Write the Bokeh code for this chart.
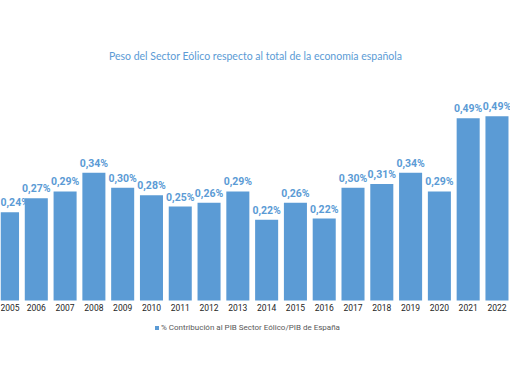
from bokeh.plotting import figure
from bokeh.models import ColumnDataSource, Label, Legend, LegendItem, FixedTicker
from bokeh.core.properties import value
from bokeh.embed import file_html
from bokeh.resources import INLINE

years = [2005, 2006, 2007, 2008, 2009, 2010, 2011, 2012, 2013, 2014,
         2015, 2016, 2017, 2018, 2019, 2020, 2021, 2022]
values = [0.235, 0.272, 0.29, 0.34, 0.30, 0.28, 0.25, 0.26, 0.29, 0.215,
          0.26, 0.218, 0.30, 0.31, 0.34, 0.29, 0.485, 0.49]
labels = ["0,24%", "0,27%", "0,29%", "0,34%", "0,30%", "0,28%", "0,25%", "0,26%", "0,29%",
          "0,22%", "0,26%", "0,22%", "0,30%", "0,31%", "0,34%", "0,29%", "0,49%", "0,49%"]
title_text = "Peso del Sector Eólico respecto al total de la economía española"
legend_text = "% Contribución al PIB Sector Eólico/PIB de España"

BLUE = "#5b9bd5"

# label styling: the first label is kept inside the chart's left edge
aligns = ["left"] + ["center"] * (len(years) - 1)
xoffs = [-7] + [0] * (len(years) - 1)

src = ColumnDataSource(dict(x=years, top=values, label=labels, align=aligns, xoff=xoffs))

p = figure(width=510, height=382, output_backend="svg", toolbar_location=None,
           x_range=(2004.7565, 2022.47), y_range=(-0.2181, 0.7979),
           min_border_left=0, min_border_right=0, min_border_top=0, min_border_bottom=0,
           background_fill_color="white", border_fill_color="white")
p.outline_line_color = None
p.grid.grid_line_color = None
p.yaxis.visible = False

r = p.vbar(x="x", top="top", width=0.8, source=src, fill_color=BLUE, line_color=None)

p.text(x="x", y="top", text="label", source=src, text_align="align", x_offset="xoff",
       text_baseline="bottom", y_offset=-3, text_color=BLUE, text_font=value("Roboto"),
       text_font_style="bold", text_font_size="10.5px")

xa = p.xaxis[0]
xa.fixed_location = 0
xa.ticker = FixedTicker(ticks=years)
xa.axis_line_color = None
xa.major_tick_line_color = None
xa.minor_tick_line_color = None
xa.major_tick_out = 0
xa.major_tick_in = 0
xa.major_label_standoff = 4
xa.major_label_text_font = "Roboto"
xa.major_label_text_font_size = "8.5px"
xa.major_label_text_color = "#262626"

p.add_layout(Label(x=2013.614, y=0.6516, text=title_text, text_align="center",
                   text_baseline="middle", text_color=BLUE, text_font="Lato",
                   text_font_size="10.5px"))

legend = Legend(items=[LegendItem(label=legend_text, renderers=[r])],
                location=(154, 50), orientation="horizontal",
                label_text_font="Roboto", label_text_font_size="8px",
                label_text_color="#595959", glyph_width=5, glyph_height=5,
                label_standoff=2, border_line_color=None, background_fill_alpha=0,
                padding=0, margin=0, label_height=10)
p.add_layout(legend)

open("out.html", "w").write(file_html(p, INLINE))
